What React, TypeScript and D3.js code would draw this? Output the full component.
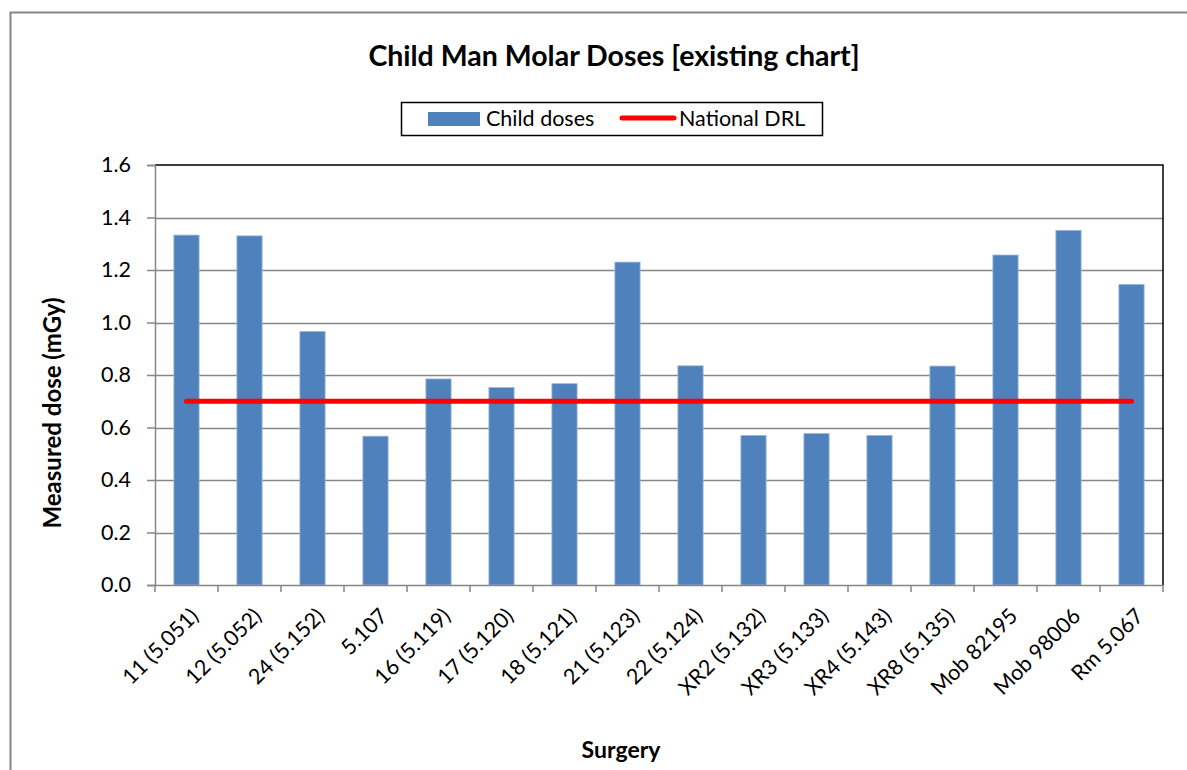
import { useRef, useEffect } from "react";
import * as d3 from "d3";

const surgeries = [
    "11 (5.051)", "12 (5.052)", "24 (5.152)", "5.107", "16 (5.119)", "17 (5.120)",
    "18 (5.121)", "21 (5.123)", "22 (5.124)", "XR2 (5.132)", "XR3 (5.133)",
    "XR4 (5.143)", "XR8 (5.135)", "Mob 82195", "Mob 98006", "Rm 5.067",
];
const childDoses = [1.333, 1.33, 0.966, 0.567, 0.785, 0.752, 0.767, 1.23, 0.835, 0.57, 0.577, 0.57, 0.834, 1.257, 1.351, 1.145];
const nationalDrl = surgeries.map(() => 0.7);
const yTicks = [0, 0.2, 0.4, 0.6, 0.8, 1.0, 1.2, 1.4, 1.6];

const FONT = "Lato, 'Open Sans', sans-serif";

export default function App() {
    const svgRef = useRef<SVGSVGElement | null>(null);

    useEffect(() => {
        if (!svgRef.current) return;
        const svg = d3.select(svgRef.current);
        svg.selectAll("*").remove();

        const width = 1187;
        const height = 770;
        const plot = { left: 155, right: 1163, top: 165, bottom: 585 };

        // outer chart frame
        svg.append("rect")
            .attr("x", 10.5).attr("y", 12.5)
            .attr("width", width + 20).attr("height", height + 20)
            .attr("fill", "#fff").attr("stroke", "#868686").attr("stroke-width", 2);

        const x = d3.scaleBand<string>()
            .domain(surgeries)
            .range([plot.left, plot.right])
            .paddingInner(0.6)
            .paddingOuter(0.3);
        const band = d3.scaleBand<string>().domain(surgeries).range([plot.left, plot.right]);

        const y = d3.scaleLinear().domain([0, 1.6]).range([plot.bottom, plot.top]);

        // gridlines
        svg.append("g")
            .selectAll("line")
            .data(yTicks.slice(1, -1))
            .join("line")
            .attr("x1", plot.left).attr("x2", plot.right)
            .attr("y1", d => Math.round(y(d)) + 0.5).attr("y2", d => Math.round(y(d)) + 0.5)
            .attr("stroke", "#868686").attr("stroke-width", 1.5);

        // plot border top/right
        svg.append("path")
            .attr("d", `M${plot.left},${plot.top} H${plot.right} V${plot.bottom}`)
            .attr("fill", "none").attr("stroke", "#000").attr("stroke-width", 1.5);

        // bars
        svg.append("g")
            .selectAll("rect")
            .data(childDoses)
            .join("rect")
            .attr("x", (_, i) => x(surgeries[i])!)
            .attr("width", x.bandwidth())
            .attr("y", d => y(d))
            .attr("height", d => y(0) - y(d))
            .attr("fill", "#4F81BD")
            .attr("stroke", "#9DB7DA").attr("stroke-width", 0.8);

        // y axis
        const yAxis = svg.append("g")
            .attr("transform", `translate(${plot.left},0)`)
            .call(d3.axisLeft(y).tickValues(yTicks).tickFormat(d3.format(".1f")).tickSize(8).tickPadding(16));
        yAxis.select(".domain").attr("stroke", "#868686").attr("stroke-width", 1.5);
        yAxis.selectAll("line").attr("stroke", "#868686").attr("stroke-width", 1.5);
        yAxis.selectAll("text").attr("font-family", FONT).attr("font-size", 21.5).attr("fill", "#000");

        // x axis
        const xAxis = svg.append("g")
            .attr("transform", `translate(0,${plot.bottom})`)
            .call(d3.axisBottom(band).tickSize(0).tickFormat(() => ""));
        xAxis.select(".domain").attr("stroke", "#868686").attr("stroke-width", 1.5);
        svg.append("g")
            .selectAll("line")
            .data(d3.range(surgeries.length + 1))
            .join("line")
            .attr("x1", i => plot.left + i * band.step()).attr("x2", i => plot.left + i * band.step())
            .attr("y1", plot.bottom).attr("y2", plot.bottom + 7)
            .attr("stroke", "#868686").attr("stroke-width", 1.5);

        svg.append("g")
            .selectAll("text")
            .data(surgeries)
            .join("text")
            .attr("transform", d => `translate(${band(d)! + band.bandwidth() / 2 + 8},${plot.bottom + 27}) rotate(-45)`)
            .attr("text-anchor", "end")
            .attr("dy", "0.35em")
            .attr("font-family", FONT).attr("font-size", 21.5)
            .text(d => d);

        // national DRL line
        const line = d3.line<number>()
            .x((_, i) => band(surgeries[i])! + band.bandwidth() / 2)
            .y(d => y(d));
        svg.append("path")
            .datum(nationalDrl)
            .attr("d", line)
            .attr("fill", "none").attr("stroke", "#FF0000")
            .attr("stroke-width", 5).attr("stroke-linecap", "round");

        // titles
        svg.append("text")
            .attr("x", 614).attr("y", 66)
            .attr("text-anchor", "middle")
            .attr("font-family", FONT).attr("font-weight", "bold").attr("font-size", 28.5)
            .text("Child Man Molar Doses [existing chart]");
        svg.append("text")
            .attr("transform", `translate(61,413) rotate(-90)`)
            .attr("text-anchor", "middle")
            .attr("font-family", FONT).attr("font-weight", "bold").attr("font-size", 24)
            .text("Measured dose (mGy)");
        svg.append("text")
            .attr("x", 621).attr("y", 758)
            .attr("text-anchor", "middle")
            .attr("font-family", FONT).attr("font-weight", "bold").attr("font-size", 23)
            .text("Surgery");

        // legend
        const legend = svg.append("g");
        legend.append("rect")
            .attr("x", 401.5).attr("y", 102.5).attr("width", 421).attr("height", 33)
            .attr("fill", "#fff").attr("stroke", "#000").attr("stroke-width", 1.5);
        legend.append("rect")
            .attr("x", 428).attr("y", 112).attr("width", 52).attr("height", 14)
            .attr("fill", "#4F81BD");
        legend.append("text")
            .attr("x", 486).attr("y", 126)
            .attr("font-family", FONT).attr("font-size", 21.5)
            .text("Child doses");
        legend.append("line")
            .attr("x1", 622).attr("x2", 674).attr("y1", 118).attr("y2", 118)
            .attr("stroke", "#FF0000").attr("stroke-width", 5).attr("stroke-linecap", "round");
        legend.append("text")
            .attr("x", 679).attr("y", 126)
            .attr("font-family", FONT).attr("font-size", 21.5)
            .text("National DRL");
    }, []);

    return (
        <svg ref={svgRef} width={1187} height={770} style={{ display: "block", position: "absolute", left: 0, top: 0 }} />
    );
}
